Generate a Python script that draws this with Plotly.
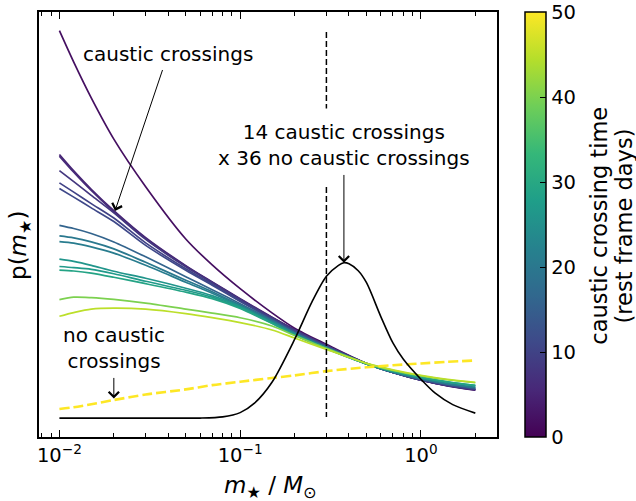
import numpy as np
import plotly.graph_objects as go
from plotly.colors import sample_colorscale

# Stellar mass grid (solar masses) on which the mass functions are evaluated
mass = [0.01, 0.012, 0.015, 0.02, 0.03, 0.05, 0.07, 0.1, 0.15, 0.2,
        0.3, 0.5, 0.7, 1.0, 1.4, 2.0]

# Caustic crossing time (rest frame days) of each event
crossing_time = [2, 5, 6, 8, 10, 11, 16, 20, 21, 26, 27, 29, 40, 45]

# p(m*) for each caustic-crossing event (arbitrary units)
p_ev01 = [95.6, 88.2, 79.8, 70.1, 58.9, 46.6, 40.5, 34.9, 29.2, 25.6, 21.8, 17.3, 15.2, 13.4, 12.0, 11.0]
p_ev02 = [66.46, 62.62, 58.29, 53.26, 46.91, 40.33, 36.49, 32.55, 28.20, 25.29, 21.55, 17.33, 15.18, 13.35, 12.11, 11.12]
p_ev03 = [66.1, 62.3, 58.0, 53.0, 46.7, 40.2, 36.4, 32.4, 28.1, 25.2, 21.5, 17.3, 15.2, 13.4, 12.1, 11.1]
p_ev04 = [62.69, 60.07, 56.86, 52.74, 46.49, 40.05, 36.30, 32.37, 28.06, 25.18, 21.48, 17.31, 15.18, 13.40, 12.15, 11.19]
p_ev05 = [59.79, 57.61, 54.92, 51.52, 45.67, 39.58, 35.95, 32.08, 27.87, 24.99, 21.36, 17.26, 15.18, 13.44, 12.20, 11.24]
p_ev06 = [58.48, 56.44, 53.91, 50.70, 45.08, 39.23, 35.71, 31.90, 27.73, 24.87, 21.26, 17.21, 15.18, 13.49, 12.25, 11.29]
p_ev07 = [49.81, 49.06, 47.89, 45.90, 42.39, 37.70, 34.66, 31.38, 27.52, 24.59, 21.19, 17.21, 15.22, 13.63, 12.44, 11.52]
p_ev08 = [47.31, 46.84, 45.90, 44.26, 41.10, 36.89, 34.19, 31.03, 27.28, 24.47, 21.08, 17.21, 15.27, 13.70, 12.53, 11.64]
p_ev09 = [45.97, 45.60, 44.73, 43.26, 40.40, 36.42, 33.84, 30.80, 27.17, 24.36, 21.01, 17.21, 15.29, 13.75, 12.58, 11.69]
p_ev10 = [41.85, 41.33, 40.40, 38.99, 37.35, 35.01, 33.26, 30.68, 26.93, 24.17, 20.89, 17.21, 15.41, 13.98, 12.88, 12.04]
p_ev11 = [40.12, 39.86, 39.46, 38.41, 36.65, 34.54, 32.90, 30.44, 26.81, 24.05, 20.84, 17.21, 15.46, 14.05, 12.95, 12.11]
p_ev12 = [39.27, 39.06, 38.57, 37.59, 36.07, 34.07, 32.55, 30.26, 26.70, 23.98, 20.80, 17.21, 15.48, 14.10, 13.00, 12.15]
p_ev13 = [32.32, 32.90, 32.79, 32.37, 31.50, 30.09, 29.16, 28.06, 26.11, 23.89, 20.84, 17.33, 15.69, 14.40, 13.47, 12.76]
p_ev14 = [28.41, 29.27, 30.09, 30.33, 30.09, 29.04, 28.10, 26.93, 25.18, 23.30, 20.61, 17.33, 15.81, 14.52, 13.58, 12.88]

p_events = [p_ev01, p_ev02, p_ev03, p_ev04, p_ev05, p_ev06, p_ev07,
            p_ev08, p_ev09, p_ev10, p_ev11, p_ev12, p_ev13, p_ev14]

# Mass function when no caustic crossing is seen
p_no_caustic = [6.6, 7.0, 7.7, 8.7, 10.0, 11.2, 12.2, 13.0, 13.9, 14.5,
                15.5, 16.4, 16.9, 17.3, 17.7, 18.0]
no_caustic_time = 50

# Combined constraint: 14 caustic crossings x 36 without
mass_comb = [0.01, 0.02, 0.04, 0.06, 0.08, 0.1, 0.12, 0.15, 0.2, 0.25, 0.3,
             0.35, 0.375, 0.4, 0.45, 0.5, 0.6, 0.7, 0.8, 1.0, 1.2, 1.5, 2.0]
p_comb = [4.45, 4.45, 4.45, 4.45, 4.73, 5.74, 7.96, 12.88, 22.95, 31.85, 37.82,
          40.40, 41.01, 40.75, 39.11, 36.30, 28.34, 22.13, 18.27, 13.58, 10.30, 7.61, 5.62]

# Mass cut marked by the dashed vertical line
m_cut = 0.3

time_range = (0, 50)
cbar_ticks = [0, 10, 20, 30, 40, 50]
x_tickvals = [0.01, 0.1, 1.0]
x_ticktext = ["10<sup>\u22122</sup>", "10<sup>\u22121</sup>", "10<sup>0</sup>"]

FONT = "DejaVu Sans"


def viridis(t):
    return sample_colorscale("Viridis", [(t - time_range[0]) / (time_range[1] - time_range[0])])[0]


fig = go.Figure()

# Individual caustic-crossing events coloured by crossing time
for t, p in zip(crossing_time, p_events):
    fig.add_trace(go.Scatter(
        x=mass, y=p, mode="lines", showlegend=False, hoverinfo="skip",
        line=dict(color=viridis(t), width=1.7, shape="spline", smoothing=0.8),
    ))

# No caustic crossings
fig.add_trace(go.Scatter(
    x=mass, y=p_no_caustic, mode="lines", showlegend=False,
    line=dict(color=viridis(no_caustic_time), width=2.6, dash="10px,4px",
              shape="spline", smoothing=0.8),
))

# Combined mass function
fig.add_trace(go.Scatter(
    x=mass_comb, y=p_comb, mode="lines", showlegend=False,
    line=dict(color="black", width=1.6, shape="spline", smoothing=0.8),
))

# Dashed mass cut, broken around the label
fig.add_trace(go.Scatter(
    x=[m_cut, m_cut, None, m_cut, m_cut],
    y=[95.3, 77.3, None, 58.8, 4.7],
    mode="lines", showlegend=False,
    line=dict(color="black", width=1.5, dash="6px,3px"),
))

# Colour scale for the crossing time
fig.add_trace(go.Scatter(
    x=[None], y=[None], mode="markers", showlegend=False,
    marker=dict(
        color=[0], colorscale="Viridis", cmin=time_range[0], cmax=time_range[1],
        showscale=True,
        colorbar=dict(
            x=1.062, xanchor="left", y=0.5, yanchor="middle",
            len=1, lenmode="fraction", thickness=21, thicknessmode="pixels",
            xpad=0, ypad=0, outlinewidth=1.5, outlinecolor="black",
            ticks="inside", ticklen=6, tickwidth=1.2, tickcolor="black",
            tickmode="array", tickvals=cbar_ticks,
            tickfont=dict(family=FONT, size=19.5, color="black"),
        ),
    ),
))

minor_ticks = [d * 10.0 ** e for e in (-3, -2, -1, 0) for d in range(2, 10)]
minor_ticks = [v for v in minor_ticks if 0.0075 < v < 2.7]

fig.update_layout(
    width=636, height=501,
    margin=dict(l=39, r=138.5, t=10, b=64),
    paper_bgcolor="white", plot_bgcolor="white",
    font=dict(family=FONT, color="black"),
    xaxis=dict(
        type="log", range=[-2.113, 0.421],
        showgrid=False, zeroline=False,
        showline=True, linecolor="black", linewidth=1.5, mirror="ticks",
        ticks="inside", ticklen=7, tickwidth=1.2, tickcolor="black",
        tickmode="array", tickvals=x_tickvals, ticktext=x_ticktext,
        tickfont=dict(family=FONT, size=19.5, color="black"),
        minor=dict(ticks="inside", ticklen=4, tickwidth=1, tickcolor="black",
                   tickmode="array", tickvals=minor_ticks, showgrid=False),
    ),
    yaxis=dict(
        range=[0, 100], showgrid=False, zeroline=False,
        showline=True, linecolor="black", linewidth=1.5, mirror=True,
        ticks="", showticklabels=False,
    ),
)

ann_font = dict(family=FONT, size=20, color="black")
arrow = dict(showarrow=True, arrowhead=4, arrowsize=2, arrowwidth=1,
             arrowcolor="black", standoff=0, startstandoff=3)

fig.add_annotation(
    x=np.log10(0.0203), y=53.2, ax=np.log10(0.0399), ay=90.2,
    axref="x", ayref="y", text="caustic crossings", font=ann_font, **arrow,
)
fig.add_annotation(
    x=np.log10(0.375), y=41.0, ax=np.log10(0.375), ay=68.6,
    axref="x", ayref="y",
    text="14 caustic crossings<br>x 36 no caustic crossings",
    align="center", font=ann_font, **arrow,
)
fig.add_annotation(
    x=np.log10(0.02), y=9.06, ax=np.log10(0.02), ay=20.84,
    axref="x", ayref="y",
    text="no caustic<br>crossings", align="center", font=ann_font, **arrow,
)

# Axis titles
title_font = dict(family=FONT, size=23, color="black")
fig.add_annotation(
    xref="paper", yref="paper", x=0.506, y=-0.117,
    text="<i>m</i><sub>\u2605</sub> / <i>M</i><sub>\u2299</sub>",
    showarrow=False, font=title_font, xanchor="center", yanchor="middle",
)
fig.add_annotation(
    xref="paper", yref="paper", x=-0.041, y=0.45,
    text="p(<i>m</i><sub>\u2605</sub>)", textangle=-90,
    showarrow=False, font=title_font, xanchor="center", yanchor="middle",
)

# Colour-bar title, two rotated lines
for line, xpos in (("caustic crossing time", 1.2225), ("(rest frame days)", 1.2765)):
    fig.add_annotation(
        xref="paper", yref="paper", x=xpos, y=0.497,
        text=line, textangle=-90, showarrow=False,
        font=dict(family=FONT, size=22.5, color="black"),
        xanchor="center", yanchor="middle",
    )

fig.write_html("out.html")
